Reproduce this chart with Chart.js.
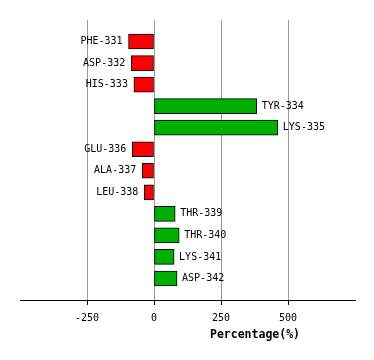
<!DOCTYPE html>
<html>
<head>
<meta charset="utf-8">
<script src="https://cdn.jsdelivr.net/npm/chart.js@4/dist/chart.umd.min.js"></script>
<style>
  html, body { margin: 0; padding: 0; background: #fff; }
  #wrap { width: 374px; height: 360px; }
</style>
</head>
<body>
<div id="wrap"><canvas id="chart"></canvas></div>
<script>
// residues, top to bottom
const residues = ["PHE-331", "ASP-332", "HIS-333", "TYR-334", "LYS-335", "GLU-336",
                  "ALA-337", "LEU-338", "THR-339", "THR-340", "LYS-341", "ASP-342"];
const percentages = [-95, -85, -75, 383, 462, -81, -44, -36, 79, 94, 75, 86];
const xTicks = [-250, 0, 250, 500];
const xMin = -500;
const xMax = 750;

// empty slot above and below the bars
const labels = [""].concat(residues, [""]);
const values = [null].concat(percentages, [null]);

const monoFont = "'DejaVu Sans Mono', monospace";

const barLabels = {
  id: "barLabels",
  afterDatasetsDraw(chart) {
    const ctx = chart.ctx;
    const meta = chart.getDatasetMeta(0);
    ctx.save();
    ctx.font = "10px " + monoFont;
    ctx.fillStyle = "#000";
    ctx.textBaseline = "middle";
    meta.data.forEach((bar, i) => {
      const v = values[i];
      if (v === null) return;
      if (v < 0) {
        ctx.textAlign = "right";
        ctx.fillText(labels[i], bar.x - 6, bar.y);
      } else {
        ctx.textAlign = "left";
        ctx.fillText(labels[i], bar.x + 5, bar.y);
      }
    });
    // axis title
    ctx.font = "bold 11.5px " + monoFont;
    ctx.textAlign = "center";
    ctx.fillText("Percentage(%)", 255, 335);
    ctx.restore();
  }
};

new Chart(document.getElementById("chart"), {
  type: "bar",
  data: {
    labels: labels,
    datasets: [{
      data: values,
      backgroundColor: values.map(v => v < 0 ? "#ff0000" : "#00b000"),
      borderColor: "#000",
      borderWidth: 1,
      borderSkipped: false,
      barThickness: 15
    }]
  },
  options: {
    indexAxis: "y",
    responsive: true,
    maintainAspectRatio: false,
    animation: false,
    layout: { padding: { left: 20, right: 19, top: 20, bottom: 0 } },
    plugins: {
      legend: { display: false },
      tooltip: { enabled: false }
    },
    scales: {
      y: {
        type: "category",
        display: false,
        offset: false
      },
      x: {
        min: xMin,
        max: xMax,
        afterBuildTicks: (scale) => {
          scale.ticks = xTicks.map(v => ({ value: v }));
        },
        afterFit: (scale) => { scale.height = 60; },
        border: { display: true, color: "#000", width: 1 },
        grid: {
          color: "#999",
          tickColor: "#000",
          tickLength: 5,
          drawOnChartArea: true
        },
        ticks: {
          color: "#000",
          font: { family: monoFont, size: 10 },
          padding: 7,
          maxRotation: 0
        }
      }
    }
  },
  plugins: [barLabels]
});
</script>
</body>
</html>
